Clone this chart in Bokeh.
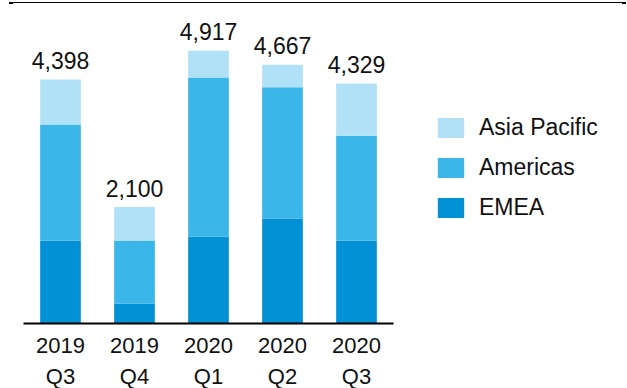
from bokeh.plotting import figure
from bokeh.models import Range1d, Legend, LegendItem, ColumnDataSource, Div
from bokeh.layouts import column
from bokeh.core.properties import value
from bokeh.embed import file_html
from bokeh.resources import INLINE

quarters = ["2019\nQ3", "2019\nQ4", "2020\nQ1", "2020\nQ2", "2020\nQ3"]
emea = [1496, 361, 1569, 1893, 1496]
americas = [2091, 1136, 2867, 2367, 1888]
asia_pacific = [811, 603, 481, 407, 945]
totals = [4398, 2100, 4917, 4667, 4329]
total_labels = ["4,398", "2,100", "4,917", "4,667", "4,329"]

series = ["EMEA", "Americas", "Asia Pacific"]
colors = ["#0391D6", "#3AB6E9", "#B1E1F7"]

FONT = "Liberation Sans"

src = ColumnDataSource(data=dict(
    q=quarters, EMEA=emea, Americas=americas, **{"Asia Pacific": asia_pacific},
    total=totals, label=total_labels,
))

p = figure(
    x_range=quarters, y_range=Range1d(0, 5680),
    frame_width=370, frame_height=315,
    min_border_left=23, min_border_right=226, min_border_top=4, min_border_bottom=62,
    output_backend="svg", toolbar_location=None, y_axis_location=None,
)
p.x_range.range_padding = 0

renderers = p.vbar_stack(series, x="q", width=0.55, source=src, color=colors, line_color=None)

p.text(x="q", y="total", text="label", source=src, text_align="center",
       text_baseline="alphabetic", y_offset=-19, text_font=value(FONT),
       text_font_size="23px", text_color="#111111")

ax = p.xaxis[0]
ax.axis_line_color = "black"
ax.axis_line_width = 2
ax.major_tick_line_color = None
ax.minor_tick_line_color = None
ax.major_label_standoff = 3
ax.major_label_text_font = FONT
ax.major_label_text_font_size = "22px"
ax.major_label_text_line_height = 1.25
ax.major_label_text_color = "#111111"
p.xgrid.grid_line_color = None
p.ygrid.grid_line_color = None
p.outline_line_color = None

items = [LegendItem(label=s, renderers=[r]) for s, r in zip(series, renderers)][::-1]
legend = Legend(items=items, location=(41, 102), orientation="vertical",
                glyph_width=33, glyph_height=25, label_height=25, spacing=13,
                label_standoff=12, padding=0, margin=0, border_line_color=None,
                background_fill_alpha=0, label_text_font=FONT,
                label_text_font_size="23px", label_text_color="#111111")
p.add_layout(legend, "right")

# decorative page rule across the top, with small end blocks
top_rule = Div(text="", width=617, height=2, margin=(2, 0, 0, 9),
               styles={"background": "linear-gradient(to bottom, black 50%, transparent 50%)",
                       "border-left": "4px solid black", "border-right": "4px solid black",
                       "box-sizing": "border-box"})

layout = column(top_rule, p, spacing=0)

open("out.html", "w").write(file_html(layout, INLINE))
